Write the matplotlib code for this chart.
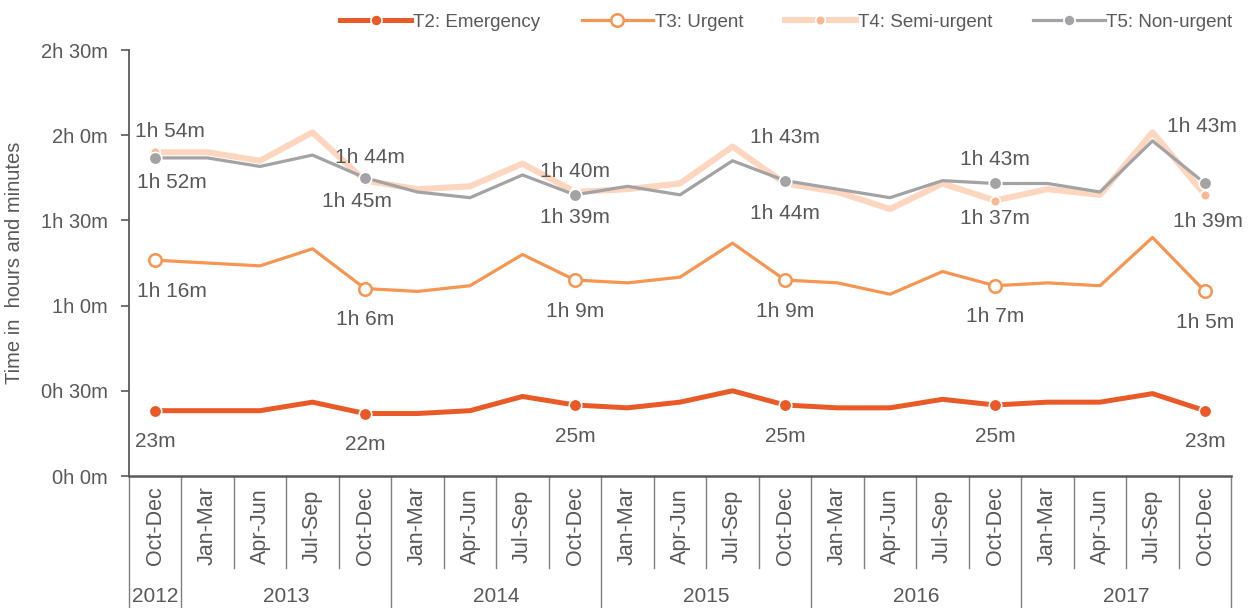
import matplotlib
matplotlib.use('Agg')
import matplotlib.pyplot as plt
from matplotlib.lines import Line2D
import matplotlib.transforms as mtrans

# ---------------- data ----------------
quarters = ['Oct-Dec'] + ['Jan-Mar', 'Apr-Jun', 'Jul-Sep', 'Oct-Dec'] * 5
years = ['2012', '2013', '2014', '2015', '2016', '2017']
year_sizes = [1, 4, 4, 4, 4, 4]

t2_emergency = [23, 23, 23, 26, 22, 22, 23, 28, 25, 24, 26, 30, 25, 24, 24, 27, 25, 26, 26, 29, 23]
t3_urgent = [76, 75, 74, 80, 66, 65, 67, 78, 69, 68, 70, 82, 69, 68, 64, 72, 67, 68, 67, 84, 65]
t4_semi = [114, 114, 111, 121, 104, 101, 102, 110, 100, 101, 103, 116, 103, 100, 94, 103, 97, 101, 99, 121, 99]
t5_non = [112, 112, 109, 113, 105, 100, 98, 106, 99, 102, 99, 111, 104, 101, 98, 104, 103, 103, 100, 118, 103]

labelled = [0, 4, 8, 12, 16, 20]
y_ticks = [0, 30, 60, 90, 120, 150]

# ---------------- style ----------------
FONT = 'Liberation Sans'
TXT = '#595959'
C2, C3, C4, C4m, C5 = '#EA5A28', '#F79552', '#FDD6C0', '#F7B994', '#A3A3A6'

plt.rcParams['font.family'] = FONT


def fmt(m):
    return f"{m // 60}h {m % 60}m" if m >= 60 else f"{m}m"


fig = plt.figure(figsize=(12.57, 6.08), dpi=100)
L, R, B, T = 128.75 / 1257, 1231.25 / 1257, (608 - 476) / 608, (608 - 50) / 608
ax = fig.add_axes([L, B, R - L, T - B])

x = list(range(len(quarters)))

ax.plot(x, t4_semi, color=C4, lw=4.4, zorder=2)
ax.plot(x, t5_non, color=C5, lw=2.3, zorder=3)
ax.plot(x, t3_urgent, color=C3, lw=2.3, zorder=3)
ax.plot(x, t2_emergency, color=C2, lw=3.6, zorder=4)

ax.plot(labelled, [t4_semi[i] for i in labelled], ls='none', marker='o', ms=7,
        mfc=C4m, mec='white', mew=1.2, zorder=5)
ax.plot(labelled, [t5_non[i] for i in labelled], ls='none', marker='o', ms=9,
        mfc=C5, mec='white', mew=1.2, zorder=5)
ax.plot(labelled, [t3_urgent[i] for i in labelled], ls='none', marker='o', ms=9,
        mfc='white', mec=C3, mew=1.8, zorder=5)
ax.plot(labelled, [t2_emergency[i] for i in labelled], ls='none', marker='o', ms=9,
        mfc=C2, mec='white', mew=1.2, zorder=5)

# data labels (offsets in pixels: dx, dy)
off_t2 = [(0, -31)] * 6
off_t3 = [(17, -31), (0, -31), (0, -31), (0, -31), (0, -31), (0, -31)]
off_t4 = [(15, 21), (5, 23), (0, 21), (0, 46), (0, -18), (3, -27)]
off_t5 = [(17, -25), (-8, -24), (0, -23), (0, -33), (0, 24), (-3, 57)]

for series, offs in [(t2_emergency, off_t2), (t3_urgent, off_t3),
                     (t4_semi, off_t4), (t5_non, off_t5)]:
    for i, (dx, dy) in zip(labelled, offs):
        ax.annotate(fmt(series[i]), (i, series[i]), xytext=(dx, dy),
                    textcoords='offset pixels', ha='center', va='center',
                    fontsize=15, color=TXT, zorder=6)

ax.set_xlim(-0.5, len(quarters) - 0.5)
ax.set_ylim(0, 150)
ax.set_yticks(y_ticks)
ax.set_yticklabels([fmt(v) if v >= 60 else f"0h {v}m" for v in y_ticks])
ax.tick_params(axis='y', direction='out', length=6, width=1.2, color=TXT,
               labelsize=14.5, labelcolor=TXT, pad=9)
ax.set_xticks([])
for s in ['top', 'right']:
    ax.spines[s].set_visible(False)
ax.spines['left'].set_color(TXT)
ax.spines['left'].set_linewidth(1.3)
ax.spines['bottom'].set_color(TXT)
ax.spines['bottom'].set_linewidth(1.8)
ax.set_ylabel('Time in  hours and minutes', fontsize=14.5, color=TXT, labelpad=12)

# two-level category axis
tr = mtrans.blended_transform_factory(ax.transData, ax.transAxes)
ah = 426.0
q_bot = -(568 - 476) / ah
y_bot = -(608 - 476) / ah
year_bounds = [0]
for s in year_sizes:
    year_bounds.append(year_bounds[-1] + s)
for k in range(len(quarters) + 1):
    bottom = y_bot if k in year_bounds else q_bot
    ax.plot([k - 0.5, k - 0.5], [0, bottom], transform=tr, color='#7F7F7F',
            lw=1.0, clip_on=False, zorder=1)
for i, q in enumerate(quarters):
    ax.text(i, -(526 - 476) / ah, q, transform=tr, rotation=90, ha='center',
            va='center', fontsize=15.5, color=TXT)
for j, yr in enumerate(years):
    c = (year_bounds[j] + year_bounds[j + 1]) / 2 - 0.5
    ax.text(c, -(596 - 476) / ah, yr, transform=tr, ha='center', va='center',
            fontsize=15, color=TXT)

# legend
handles = [
    Line2D([], [], color=C2, lw=3.6, marker='o', ms=8, mfc=C2, mec='white', mew=1.2),
    Line2D([], [], color=C3, lw=2.3, marker='o', ms=9, mfc='white', mec=C3, mew=1.8),
    Line2D([], [], color=C4, lw=4.4, marker='o', ms=7, mfc=C4m, mec='white', mew=1.2),
    Line2D([], [], color=C5, lw=2.3, marker='o', ms=8, mfc=C5, mec='white', mew=1.2),
]
names = ['T2: Emergency', 'T3: Urgent', 'T4: Semi-urgent', 'T5: Non-urgent']
leg = fig.legend(handles, names, loc='center right', bbox_to_anchor=(1240 / 1257, 1 - 22 / 608),
                 ncol=4, frameon=False, fontsize=13.5, handlelength=3.8, handletextpad=0.1,
                 columnspacing=2.2, borderaxespad=0)
for t in leg.get_texts():
    t.set_color(TXT)

fig.savefig('out.png', dpi=100)
